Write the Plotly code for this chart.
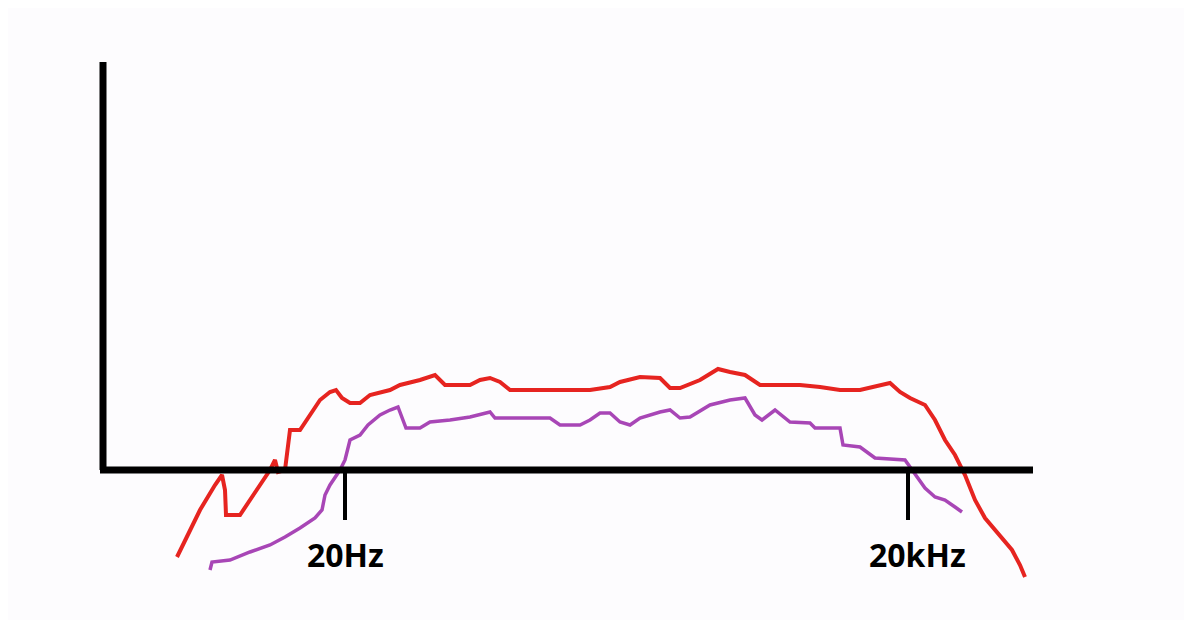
import plotly.graph_objects as go

# hand-drawn response curves, in picture units (x right, y down)
red_x = [177,185,200,215,222,225,226,240,250,262,270,275,278,285,288,290,300,310,320,330,336,342,350,360,370,390,400,420,435,445,470,480,490,500,510,560,590,610,620,640,660,670,680,700,718,730,745,760,800,820,840,860,880,890,900,910,925,935,945,955,965,975,985,1000,1012,1020,1025]
red_y = [557,540,510,485,475,490,515,515,500,483,470,460,472,470,450,430,430,415,400,392,390,398,403,403,395,390,385,380,375,385,385,380,378,382,390,390,390,387,382,377,378,388,388,380,369,372,375,385,385,387,390,390,385,383,392,398,405,420,440,455,475,500,518,535,550,565,577]
pur_x = [210,212,230,250,270,285,300,315,322,325,330,340,345,350,360,368,380,390,398,402,406,420,430,450,470,490,495,550,560,580,590,600,610,620,630,640,660,670,680,690,710,730,745,755,762,775,790,810,815,840,843,860,875,905,912,925,935,945,955,962]
pur_y = [570,562,560,552,545,537,528,518,510,495,485,470,460,440,435,425,415,410,407,418,428,428,422,420,417,412,418,418,425,425,420,413,413,422,425,418,412,410,418,417,405,400,398,415,420,410,422,423,428,428,445,447,458,460,470,488,497,500,507,512]
tick_x = [345, 908]
tick_labels = ["20Hz", "20kHz"]

fig = go.Figure()
fig.add_trace(go.Scatter(x=red_x, y=red_y, mode="lines", line=dict(color="#e62420", width=4), hoverinfo="skip"))
fig.add_trace(go.Scatter(x=pur_x, y=pur_y, mode="lines", line=dict(color="#a846b6", width=3.5), hoverinfo="skip"))

fig.add_shape(type="line", x0=103, x1=103, y0=62, y1=470, line=dict(color="black", width=7))
fig.add_shape(type="line", x0=100, x1=1033, y0=470, y1=470, line=dict(color="black", width=7))
for tx, tl in zip(tick_x, tick_labels):
    fig.add_shape(type="line", x0=tx, x1=tx, y0=470, y1=520, line=dict(color="black", width=4))
    fig.add_annotation(x=tx + (0 if tl == "20Hz" else 9), y=554, text="<b>" + tl + "</b>", showarrow=False,
                       font=dict(family="Noto Sans", size=32, color="black"))

fig.update_layout(width=1176, height=612, margin=dict(l=0, r=0, t=0, b=0),
                  paper_bgcolor="#fdfcfe", plot_bgcolor="#fdfcfe", showlegend=False,
                  xaxis=dict(range=[8, 1184], visible=False),
                  yaxis=dict(range=[620, 8], visible=False))
fig.write_html("out.html")
